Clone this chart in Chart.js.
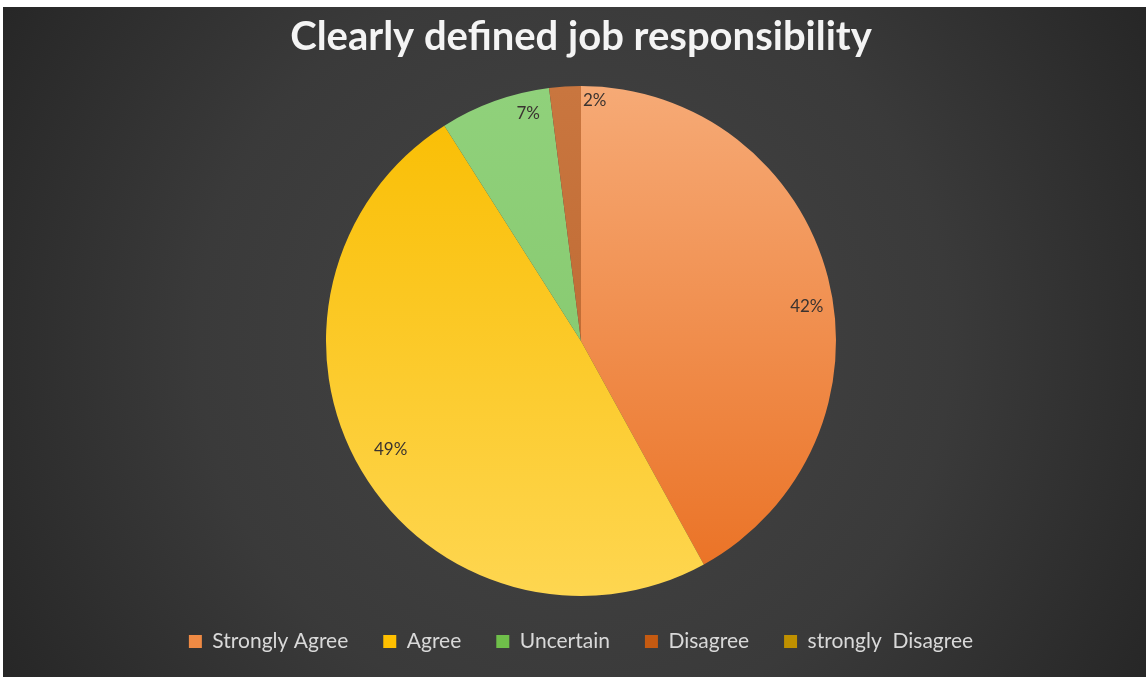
<!DOCTYPE html>
<html>
<head>
<meta charset="utf-8">
<title>Clearly defined job responsibility</title>
<script src="https://cdn.jsdelivr.net/npm/chart.js@4.4.0/dist/chart.umd.min.js"></script>
<style>
  html, body { margin: 0; background: #fff; }
  #wrap { position: absolute; left: 3px; top: 7px; width: 1143px; height: 670px; }
</style>
</head>
<body>
<div id="wrap"><canvas id="jobChart"></canvas></div>
<script>
const categories = ["Strongly Agree", "Agree", "Uncertain", "Disagree", "strongly  Disagree"];
const shares = [42, 49, 7, 2, 0];
const legendColors = ["#ef8a44", "#ffc000", "#6fbf4a", "#c55a11", "#bf9000"];
// each slice fades from one stop at the top to another at the bottom
const sliceTop = ["#f6aa76", "#f9bd00", "#90d17b", "#c9763f", "#bf9000"];
const sliceBottom = ["#ea7022", "#fed650", "#82c569", "#b9632c", "#a67c00"];

// radial dark backdrop behind everything
const backdrop = {
  id: "backdrop",
  beforeDraw(chart) {
    const { ctx, width, height } = chart;
    const g = ctx.createRadialGradient(width / 2, height / 2, 0, width / 2, height / 2, width * 0.6);
    g.addColorStop(0, "#454545");
    g.addColorStop(0.55, "#3a3a3a");
    g.addColorStop(1, "#252525");
    ctx.save();
    ctx.fillStyle = g;
    ctx.fillRect(0, 0, width, height);
    ctx.restore();
  }
};

// percent labels near the outer edge of each slice
const labelNudge = [[6, 22], [5, -7], [24, -14], [28, -14], [0, 0]];
const sliceLabels = {
  id: "sliceLabels",
  afterDatasetsDraw(chart) {
    const { ctx } = chart;
    const meta = chart.getDatasetMeta(0);
    ctx.save();
    ctx.font = "17px Lato";
    ctx.fillStyle = "#3a3330";
    ctx.textAlign = "center";
    ctx.textBaseline = "middle";
    meta.data.forEach((arc, i) => {
      const v = shares[i];
      if (!v) return;
      const p = arc.getProps(["x", "y", "startAngle", "endAngle", "outerRadius"], true);
      const mid = (p.startAngle + p.endAngle) / 2;
      const r = p.outerRadius * 0.89;
      ctx.fillText(v + "%", p.x + Math.cos(mid) * r + labelNudge[i][0], p.y + Math.sin(mid) * r + labelNudge[i][1]);
    });
    ctx.restore();
  }
};

new Chart(document.getElementById("jobChart"), {
  type: "pie",
  data: {
    labels: categories,
    datasets: [{
      data: shares,
      borderWidth: 0,
      backgroundColor(c) {
        const i = c.dataIndex;
        const area = c.chart.chartArea;
        if (!area) return sliceTop[i];
        const g = c.chart.ctx.createLinearGradient(0, area.top, 0, area.bottom);
        g.addColorStop(0, sliceTop[i]);
        g.addColorStop(1, sliceBottom[i]);
        return g;
      }
    }]
  },
  options: {
    responsive: true,
    maintainAspectRatio: false,
    animation: false,
    layout: { padding: { left: 13, bottom: 15 } },
    plugins: {
      title: {
        display: true,
        text: "Clearly defined job responsibility",
        color: "#f4f4f4",
        font: { family: "Lato", size: 40, weight: "bold" },
        padding: { top: 6, bottom: 25 }
      },
      legend: {
        position: "bottom",
        labels: {
          color: "#d9d9d9",
          font: { family: "Lato", size: 21 },
          boxWidth: 13,
          boxHeight: 13,
          padding: 35,
          generateLabels() {
            return categories.map((name, i) => ({
              text: name,
              fillStyle: legendColors[i],
              strokeStyle: legendColors[i],
              lineWidth: 0,
              fontColor: "#d9d9d9",
              hidden: false,
              index: i
            }));
          }
        }
      },
      tooltip: { enabled: false }
    }
  },
  plugins: [backdrop, sliceLabels]
});
</script>
</body>
</html>
